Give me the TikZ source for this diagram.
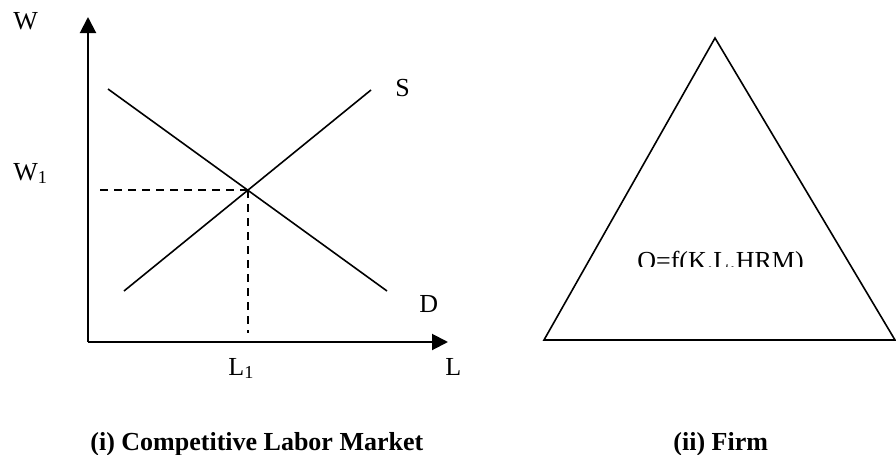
\documentclass[tikz,border=0pt]{standalone}
\usepackage{fontspec}
\setmainfont{Liberation Serif}
\usepackage{tikz}
\usetikzlibrary{positioning,calc}
\usetikzlibrary{arrows.meta}
\definecolor{InkBlack}{RGB}{0,0,0}
\tikzset{
	axis/.style={draw=InkBlack,line width=1pt,-{Triangle[length=8pt,width=8pt]}},
	curve/.style={draw=InkBlack,line width=0.8pt},
	guide/.style={draw=InkBlack,line width=0.8pt,dash pattern=on 4pt off 3pt},
	lbl/.style={inner sep=0pt,anchor=base west,font=\fontsize{13}{15.6}\selectfont},
	capt/.style={lbl,font=\fontsize{13}{15.6}\selectfont\bfseries},
}

\begin{document}
\begin{tikzpicture}[x=0.5pt,y=-0.5pt]
					\useasboundingbox (0,0) rectangle (896,455);
					% labour market
					\coordinate (o) at (88,342);
					\coordinate (ytop) at (88,17);
					\coordinate (xend) at (448,342);
					\coordinate (d1) at (108,89);
					\coordinate (d2) at (387,291);
					\coordinate (s1) at (124,291);
					\coordinate (s2) at (371,90);
					\coordinate (eq) at (248,190);
					\coordinate (w1) at (100,190);
					\coordinate (l1) at (248,333);
					\draw[axis] (o)--(ytop);
					\draw[axis] (o)--(xend);
					\draw[curve] (d1)--(d2);
					\draw[curve] (s1)--(s2);
					\draw[guide] (w1)--(eq);
					\draw[guide] (eq)--(l1);
					\node[lbl] (wlab) at (13,29) {W};
					\node[lbl] (w1lab) at (13,180) {W\textsubscript{1}};
					\node[lbl] (slab) at (395,97) {S};
					\node[lbl] (dlab) at (419,312) {D};
					\node[lbl] (l1lab) at (228,375) {L\textsubscript{1}};
					\node[lbl] (llab) at (445,375) {L};
					% firm
					\coordinate (apex) at (715,38);
					\coordinate (bl) at (544,340);
					\coordinate (br) at (895,340);
					\draw[curve] (apex)--(bl)--(br)--cycle;
					\begin{scope}
						\clip (600,240) rectangle (850,266);
						\node[lbl] (prod) at (637,269) {O=f(K.L.HRM)};
					\end{scope}
					% captions
					\node[capt] (capi) at (90,450) {(i) Competitive Labor Market};
					\node[capt] (capii) at (673,450) {(ii) Firm};
				\end{tikzpicture}
\end{document}
